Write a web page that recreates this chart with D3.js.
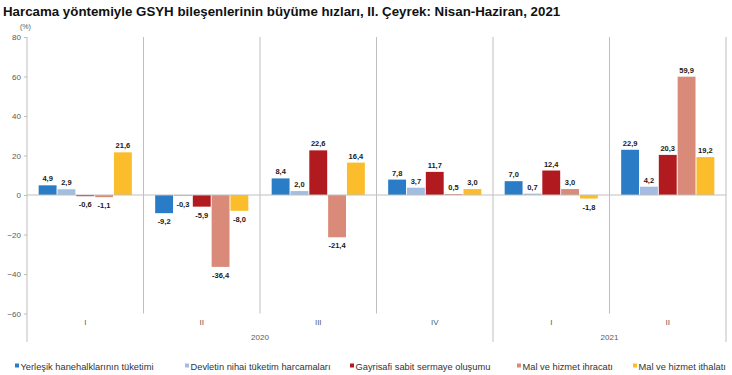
<!DOCTYPE html>
<html lang="tr">
<head>
  <meta charset="UTF-8">
  <title>Harcama yöntemiyle GSYH bileşenlerinin büyüme hızları</title>
  <style>
    body { margin: 0; background: #fff; }
    svg { display: block; font-family: "Liberation Sans", Arial, sans-serif; }
    .title { font-size: 13.3px; font-weight: bold; fill: #111; }
    .tick text { font-size: 8px; fill: #595959; }
    .val { font-size: 7.5px; font-weight: bold; fill: #1a1a1a; }
    .cat { font-size: 8px; fill: #595959; opacity: 0.99; }
    .legend text { font-size: 9.3px; fill: #333; }
  </style>
  <script src="https://d3js.org/d3.v7.min.js"></script>
</head>
<body>
  <div id="chart"></div>
  <script>
    // Veriler
    var quarters = ["I", "II", "III", "IV", "I", "II"];
    var years = [{ name: "2020", from: 0, to: 4 }, { name: "2021", from: 4, to: 6 }];
    var seriesNames = [
      "Yerleşik hanehalklarının tüketimi",
      "Devletin nihai tüketim harcamaları",
      "Gayrisafi sabit sermaye oluşumu",
      "Mal ve hizmet ihracatı",
      "Mal ve hizmet ithalatı"
    ];
    var hanehalki = [4.9, -9.2, 8.4, 7.8, 7.0, 22.9];
    var devlet = [2.9, -0.3, 2.0, 3.7, 0.7, 4.2];
    var sermaye = [-0.6, -5.9, 22.6, 11.7, 12.4, 20.3];
    var ihracat = [-1.1, -36.4, -21.4, 0.5, 3.0, 59.9];
    var ithalat = [21.6, -8.0, 16.4, 3.0, -1.8, 19.2];
    var yTicks = [80, 60, 40, 20, 0, -20, -40, -60];

    var series = [hanehalki, devlet, sermaye, ihracat, ithalat];
    var colors = ["#2b7cc6", "#a3bde2", "#b11a1e", "#d98a78", "#fbbd2c"];

    var width = 732, height = 375;
    var plotLeft = 27, plotRight = 726, plotTop = 37, plotBottom = 313.5, axisBottom = 342;

    var svg = d3.select("#chart").append("svg")
      .attr("width", width)
      .attr("height", height);

    svg.append("text")
      .attr("class", "title")
      .attr("x", 3)
      .attr("y", 16)
      .text("Harcama yöntemiyle GSYH bileşenlerinin büyüme hızları, II. Çeyrek: Nisan-Haziran, 2021");

    svg.append("text")
      .attr("x", 20)
      .attr("y", 29)
      .style("font-size", "7px")
      .style("fill", "#595959")
      .text("(%)");

    // Ölçekler
    var x = d3.scaleBand().domain(d3.range(quarters.length)).range([plotLeft, plotRight]);
    var xs = d3.scaleBand().domain(d3.range(series.length))
      .range([0, x.bandwidth()]).paddingInner(0.05).paddingOuter(0.62);
    var y = d3.scaleLinear().domain([-60, 80]).range([plotBottom, plotTop]);

    // Y ekseni
    var yAxis = svg.append("g")
      .attr("transform", "translate(" + plotLeft + ",0)")
      .call(d3.axisLeft(y).tickValues(yTicks).tickSize(3).tickPadding(3));
    yAxis.select(".domain").remove();
    yAxis.selectAll(".tick line").attr("stroke", "#bdbdbd");

    // Ayırıcı çizgiler
    var longLines = [0];
    years.forEach(function(yr) { longLines.push(yr.to); });
    svg.append("g").selectAll("line")
      .data(d3.range(quarters.length + 1))
      .enter().append("line")
      .attr("x1", function(i) { return i < quarters.length ? x(i) : plotRight; })
      .attr("x2", function(i) { return i < quarters.length ? x(i) : plotRight; })
      .attr("y1", plotTop)
      .attr("y2", function(i) { return longLines.indexOf(i) >= 0 ? axisBottom : plotBottom; })
      .attr("stroke", "#bfbfbf")
      .attr("stroke-width", 1);

    // Sütunlar
    var groups = svg.append("g").selectAll("g")
      .data(series)
      .enter().append("g");

    groups.each(function(vals, s) {
      var g = d3.select(this);
      g.selectAll("rect")
        .data(vals)
        .enter().append("rect")
        .attr("fill", colors[s])
        .attr("x", function(v, i) { return x(i) + xs(s); })
        .attr("width", xs.bandwidth())
        .attr("y", function(v) { return y(Math.max(0, v)); })
        .attr("height", function(v) { return Math.max(1, Math.abs(y(v) - y(0))); });

      g.selectAll("text")
        .data(vals)
        .enter().append("text")
        .attr("class", "val")
        .attr("text-anchor", "middle")
        .attr("x", function(v, i) { return x(i) + xs(s) + xs.bandwidth() / 2; })
        .attr("y", function(v) { return v >= 0 ? y(v) - 4 : y(v) + 11; })
        .text(function(v) { return d3.format(".1f")(v).replace(".", ",").replace("−", "-"); });
    });

    // Sıfır çizgisi
    svg.append("line")
      .attr("x1", plotLeft).attr("x2", plotRight)
      .attr("y1", y(0)).attr("y2", y(0))
      .attr("stroke", "#bfbfbf");

    // Kategori etiketleri
    svg.append("g").selectAll("text")
      .data(quarters)
      .enter().append("text")
      .attr("class", "cat")
      .attr("text-anchor", "middle")
      .attr("x", function(d, i) { return x(i) + x.bandwidth() / 2; })
      .attr("y", 325)
      .text(function(d) { return d; });

    svg.append("g").selectAll("text")
      .data(years)
      .enter().append("text")
      .attr("class", "cat")
      .attr("text-anchor", "middle")
      .attr("x", function(d) { return ((d.from === 0 ? plotLeft : x(d.from)) + (d.to < quarters.length ? x(d.to) : plotRight)) / 2; })
      .attr("y", 340)
      .text(function(d) { return d.name; });

    // Lejant
    var legendX = [15, 185, 350, 517, 633];
    var legend = svg.append("g").attr("class", "legend").selectAll("g")
      .data(seriesNames)
      .enter().append("g")
      .attr("transform", function(d, i) { return "translate(" + legendX[i] + ",366)"; });
    legend.append("rect")
      .attr("x", 0).attr("y", -2.5)
      .attr("width", 4).attr("height", 4)
      .attr("fill", function(d, i) { return colors[i]; });
    legend.append("text")
      .attr("x", 5.5)
      .attr("y", 3.5)
      .text(function(d) { return d; });
  </script>
</body>
</html>
